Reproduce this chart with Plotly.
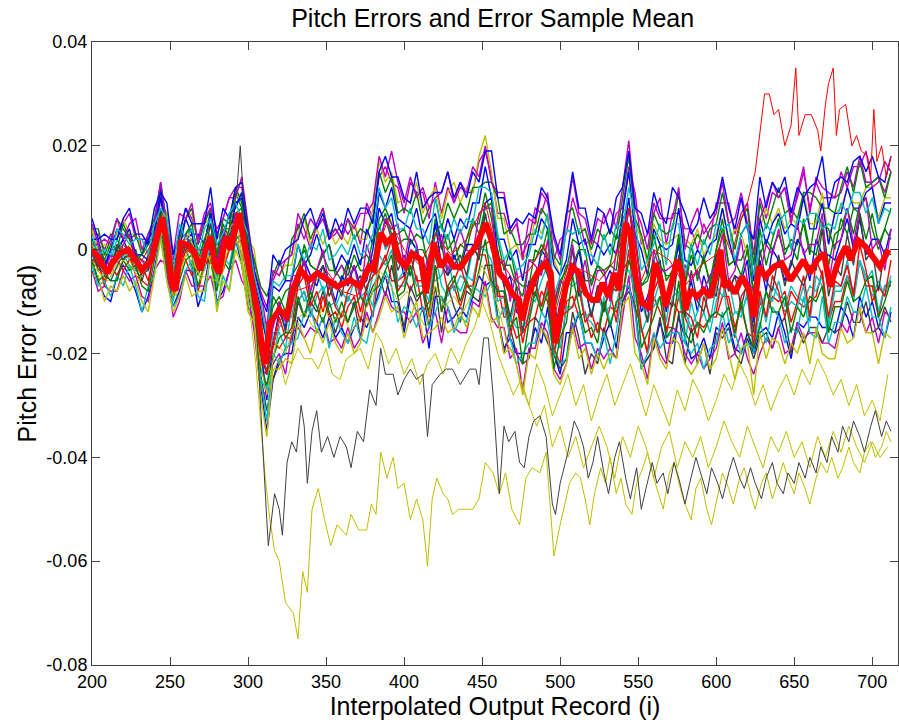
import plotly.graph_objects as go

# ---------------------------------------------------------------- data (mrad)
# common record grid for the individual error runs
GRID = list(range(200, 713, 4))

RUN_BLUE_1 = [-2,-6,-9,-10,-5,-3,-5,-8,-12,-9, -4,3,-5,-11,-8,-4,-4,-11,-7,0,
              -10,-8,-4,2,-3,-11,-14,-26,-35,-25, -21,-20,-20,-13,-15,-12,-14,-17,-13,-17,
              -15,-18,-15,-13,-15,-12,-8,-5,-10,-10, -16,-9,-12,-11,-19,-9,-9,-14,-13,-11,
              -13,-9,-5,-7,-6,-13,-19,-17,-20,-20, -20,-15,-18,-11,-20,-24,-16,-16,-12,-18,
              -18,-21,-17,-14,-19,-10,-7,-11,-22,-21, -19,-14,-18,-18,-13,-17,-21,-20,-17,-21,
              -15,-16,-14,-19,-20,-16,-20,-16,-15,-17, -12,-16,-21,-14,-15,-13,-13,-15,-15,-16,
              -11,-13,-17,-9,-13,-10,-15,-17,-12]
RUN_MAGENTA_1 = [3,3,0,3,2,5,7,2,2,2, 5,9,7,-2,3,8,6,2,7,9,
                 3,6,10,12,12,3,-2,-8,-11,-6, -3,-2,-1,5,2,6,4,6,2,3,
                 5,3,5,1,9,6,14,16,13,12, 7,13,11,11,6,13,7,12,9,13,
                 11,11,17,19,14,7,7,3,5,-1, 2,8,7,11,-2,2,3,10,6,1,
                 2,1,7,3,7,8,16,11,1,3, 7,10,1,7,7,4,4,0,5,2,
                 9,9,9,3,7,9,-1,10,6,11, 10,12,6,10,15,8,13,10,10,10,
                 11,15,12,18,13,13,14,11,15]
RUN_GREEN_1 = [2,-1,-1,-1,-1,2,3,-1,-2,-3, 4,11,3,-6,2,3,4,0,0,8,
               -2,4,4,11,8,0,-7,-13,-17,-11, -9,-12,-5,-3,0,-3,-4,-1,-4,-4,
               -6,-2,-4,-2,-1,-3,6,8,5,1, 2,2,0,0,-3,6,0,3,-2,1,
               0,5,5,11,6,-2,-3,-3,-7,-9, -2,-2,1,-1,-10,-6,-4,2,1,-6,
               -6,-3,-4,-3,-4,6,8,2,-7,-6, -2,1,-6,-4,2,-7,-1,-5,-2,-6,
               0,4,-3,-2,-2,1,-8,-1,2,0, 3,-1,2,1,5,-1,7,5,-3,3,
               4,8,3,9,10,4,0,4,8]
RUN_CYAN_1 = [-1,-4,-4,-6,-3,-1,-3,-4,-4,-4, -1,2,0,-10,-3,1,-4,-4,-4,1,
              -7,-1,-3,3,1,-7,-10,-20,-27,-16, -16,-19,-11,-10,-8,-13,-9,-7,-11,-10,
              -13,-9,-11,-9,-8,-11,-1,-3,0,-7, -7,-3,-7,-7,-10,-1,-7,-9,-6,-8,
              -5,-6,0,0,-2,-10,-9,-13,-15,-15, -13,-8,-11,-7,-16,-19,-11,-11,-8,-13,
              -14,-16,-9,-14,-11,-4,-4,-8,-16,-13, -11,-9,-17,-9,-8,-18,-10,-15,-12,-16,
              -10,-6,-14,-12,-12,-9,-20,-9,-14,-7, -9,-12,-10,-11,-7,-14,-5,-7,-14,-8,
              -8,-5,-10,-2,-5,-9,-6,-9,-5]
RUN_YELLOW_1 = [4,0,1,0,3,6,3,3,0,-1, 6,9,7,-3,1,6,7,1,5,6,
                2,4,3,10,11,2,0,-10,-16,-4, -5,-3,-3,3,6,1,4,1,4,1,
                3,1,5,2,2,8,17,13,15,9, 10,9,13,7,10,12,6,11,13,9,
                12,11,18,22,15,6,6,0,1,-2, 0,6,3,7,-2,-5,4,3,4,4,
                -1,-3,3,-1,5,7,9,5,2,-3, 5,2,1,2,3,2,1,4,-1,1,
                3,8,1,4,3,-1,-3,4,8,5, 8,4,6,5,11,5,5,11,2,7,
                8,12,9,9,12,12,6,10,10]
RUN_RED_1 = [-3,-3,-6,-3,-5,-2,-1,-5,-6,-7, 0,3,-4,-9,-5,0,-3,-8,-3,-1,
             -6,-4,0,2,-1,-4,-12,-23,-24,-18, -19,-17,-17,-10,-8,-12,-14,-9,-13,-12,
             -15,-11,-9,-14,-8,-13,-4,-1,-6,-6, -5,-8,-5,-12,-10,-3,-12,-8,-7,-11,
             -7,-7,-1,-1,-7,-7,-13,-13,-17,-16, -14,-13,-8,-10,-19,-22,-10,-9,-13,-12,
             -17,-14,-16,-11,-12,-9,0,-11,-15,-20, -9,-12,-15,-15,-9,-13,-16,-14,-15,-13,
             -13,-9,-9,-15,-11,-16,-17,-10,-13,-9, -10,-8,-14,-10,-11,-10,-9,-4,-14,-10,
             -10,-5,-8,-2,-7,-7,-13,-7,-7]
RUN_GRAY_1 = [1,-3,-2,-3,0,-2,0,-1,-5,-1, 1,8,0,-6,-3,1,2,-4,0,3,
              -5,1,4,7,4,-4,-13,-24,-31,-25, -22,-19,-18,-10,-13,-10,-12,-8,-12,-16,
              -12,-14,-10,-17,-10,-7,-5,-9,-3,-9, -15,-7,-10,-8,-15,-7,-16,-7,-11,-14,
              -8,-9,-10,-3,-3,-13,-20,-15,-20,-22, -21,-13,-15,-18,-20,-23,-21,-12,-17,-24,
              -20,-22,-15,-19,-21,-10,-8,-11,-23,-21, -19,-13,-21,-22,-12,-22,-15,-22,-18,-24,
              -16,-17,-15,-20,-22,-17,-21,-17,-16,-19, -15,-13,-20,-15,-18,-15,-15,-18,-15,-16,
              -15,-10,-14,-14,-10,-16,-15,-11,-14]
RUN_BLUE_2 = [-1,0,-4,0,0,2,-1,-1,-1,-2, 3,10,2,-8,1,2,3,-3,1,7,
              -3,3,1,9,10,1,-9,-20,-29,-18, -12,-15,-7,-6,-2,-5,-7,-3,-6,-10,
              -5,-7,-3,-7,-6,0,8,5,7,0, -5,2,0,-5,-3,5,-3,-5,-1,-4,
              1,1,0,9,10,-1,-7,-5,-12,-13, -6,-7,0,-2,-17,-10,-7,-5,0,-7,
              -13,-7,-7,-4,-7,2,10,-3,-12,-9, -5,-2,-12,-5,1,-11,-6,-12,-5,-9,
              -1,-2,-8,-5,-6,-2,-14,-2,-8,0, -2,-6,-3,2,0,-6,2,-1,-1,-2,
              2,6,0,6,-1,2,2,-1,4]
RUN_GREEN_2 = [4,4,-1,2,6,4,2,3,-1,3, 6,13,5,-1,2,6,8,1,5,8,
               -1,6,5,12,9,1,-2,-7,-9,-5, -2,-6,2,4,7,2,5,8,3,4,
               2,6,2,4,3,6,15,11,14,7, 8,7,11,5,8,10,4,9,6,9,
               7,12,12,13,13,10,3,4,1,1, 3,3,8,6,-1,-3,7,8,3,4,
               0,4,2,4,2,10,18,6,3,-2, 7,4,3,4,11,1,0,3,1,4,
               5,11,5,0,6,8,-3,9,4,8, 12,7,8,6,11,11,10,8,8,7,
               12,16,11,17,12,13,14,10,15]
RUN_MAGENTA_2 = [-4,-8,-7,-8,-8,-4,-6,-5,-9,-10, -4,-2,-3,-13,-10,-4,-7,-7,-7,-5,
                 -10,-9,-4,-2,-6,-8,-16,-27,-28,-22, -20,-24,-16,-15,-17,-15,-16,-13,-18,-17,
                 -19,-15,-19,-17,-12,-16,-12,-8,-11,-12, -12,-14,-12,-18,-15,-12,-18,-11,-15,-16,
                 -16,-10,-11,-6,-13,-15,-15,-21,-19,-27, -19,-19,-14,-16,-23,-25,-22,-14,-19,-18,
                 -23,-19,-21,-19,-21,-13,-5,-17,-20,-25, -16,-20,-22,-15,-16,-20,-22,-20,-23,-21,
                 -19,-14,-21,-20,-16,-21,-24,-20,-17,-19, -15,-20,-19,-14,-17,-16,-16,-18,-18,-19,
                 -14,-16,-12,-12,-16,-13,-18,-12,-13]
RUN_CYAN_2 = [0,0,-5,-2,2,0,-2,0,-4,-4, 2,5,4,-7,-3,3,1,-4,2,3,
              -6,2,1,4,7,-5,-14,-25,-27,-21, -15,-13,-13,-6,-10,-8,-4,-8,-6,-11,
              -8,-10,-6,-9,-10,-5,5,0,2,-6, -4,-5,1,-7,-5,-6,-5,-1,-8,-5,
              -6,0,-1,7,1,-8,-8,-14,-9,-16, -9,-10,-6,-3,-20,-16,-6,-7,-6,-13,
              -12,-9,-12,-11,-5,-5,2,-10,-10,-14, -10,-6,-14,-6,-9,-12,-15,-12,-7,-14,
              -7,-9,-6,-12,-13,-8,-18,-12,-8,-10, -6,-11,-7,-9,-10,-7,-8,-5,-15,-7,
              -7,-2,-9,-2,-6,-4,-12,-7,-6]
RUN_BLUE_3 = [2,2,-3,0,4,2,4,-1,-1,2, 4,12,3,-3,0,6,3,3,1,7,
              1,2,7,8,11,2,-6,-11,-18,-7, -8,-6,-6,1,-3,-1,3,-1,1,-4,
              -1,-3,1,-3,4,1,11,8,12,6, 5,4,8,2,5,7,1,6,2,6,
              4,9,9,16,10,2,2,-2,0,-6, 1,1,6,4,-3,-5,-2,6,1,2,
              -3,1,-1,1,-1,7,15,3,0,-5, 4,1,0,1,8,-2,-3,0,-2,1,
              2,8,2,-3,3,5,-6,6,1,5, 7,3,5,4,10,4,4,9,1,7,
              7,12,8,8,11,12,5,9,9]
RUN_GREEN_3 = [1,1,-2,1,0,5,2,-2,-1,1, 3,7,5,-4,-1,3,5,-2,2,5,
               -1,5,2,7,8,-2,-5,-17,-19,-9, -11,-8,-7,-5,1,-3,-4,-1,1,-5,
               -3,-5,-1,-4,-4,2,4,7,3,3, 4,1,3,2,-4,3,5,0,2,-3,
               2,6,3,8,9,2,-4,0,-6,-7, -7,0,-1,4,-12,-7,-3,-3,0,0,
               -7,-3,-5,-3,3,0,8,3,-7,-5, 3,-3,-5,-5,3,-6,1,-6,-1,-7,
               0,6,-3,-2,-5,0,-9,4,-3,2, 6,0,1,-2,6,0,-1,5,4,0,
               6,3,8,7,2,7,1,4,2]
RUN_RED_2 = [-2,-2,-7,-2,-2,-4,-2,-2,-3,-6, 0,2,1,-9,0,-2,-5,-3,-3,-1,
             -4,-3,0,1,2,-1,-11,-22,-23,-18, -13,-17,-15,-7,-5,-11,-8,-12,-7,-11,
             -13,-8,-6,-12,-7,-5,-4,-2,2,-8, -6,-1,-6,-6,-13,-4,-2,-8,-6,-3,
             -7,-8,0,1,2,-9,-9,-17,-10,-18, -12,-6,-11,-6,-20,-13,-12,-11,-7,-14,
             -12,-16,-11,-8,-14,-4,-2,-5,-15,-20, -8,-5,-16,-10,-12,-12,-13,-17,-9,-13,
             -12,-5,-11,-17,-9,-7,-19,-8,-13,-5, -8,-13,-8,-10,-5,-13,-2,-5,-13,-6,
             -7,-3,-9,1,-4,-10,-7,-9,-2]
RUN_CYAN_3 = [-3,-7,-6,-9,-5,-7,-3,-7,-12,-7, -5,3,-6,-11,-9,-4,-2,-9,-10,-1,
              -11,-5,-8,2,-2,-10,-12,-25,-33,-20, -22,-19,-18,-17,-12,-11,-16,-13,-19,-13,
              -16,-18,-13,-17,-18,-12,-9,-4,-7,-14, -11,-12,-15,-11,-15,-12,-9,-11,-16,-13,
              -14,-7,-8,-9,-6,-14,-11,-17,-22,-20, -18,-18,-12,-14,-20,-22,-21,-15,-12,-18,
              -18,-21,-16,-22,-16,-7,-7,-12,-23,-20, -16,-19,-17,-16,-16,-18,-20,-18,-23,-19,
              -18,-12,-18,-16,-20,-18,-19,-14,-18,-11, -13,-18,-15,-16,-9,-16,-17,-9,-18,-14,
              -14,-9,-12,-12,-7,-13,-13,-17,-11]
RUN_MAGENTA_3 = [5,1,2,1,6,2,5,6,0,3, 5,13,4,-1,7,6,9,1,6,8,
                 4,6,10,10,14,5,-4,-8,-15,-4, -5,-2,-1,7,4,0,5,8,2,4,
                 2,6,4,7,7,9,18,14,19,13, 9,14,10,12,8,10,11,15,9,12,
                 11,16,14,20,13,11,11,4,6,-2, 6,5,11,9,2,-2,6,14,7,6,
                 1,6,5,8,4,12,21,8,5,0, 9,6,6,6,12,0,5,8,3,5,
                 7,13,5,6,11,5,2,6,9,13, 10,12,5,11,16,7,14,12,11,10,
                 15,12,16,16,19,12,13,17,15]
RUN_YELLOW_2 = [-5,-5,-10,-7,-8,-5,-8,-6,-10,-12, -5,2,-6,-12,-9,-5,-9,-8,-8,-1,
                -12,-6,-8,0,-3,-12,-14,-28,-36,-23, -23,-21,-22,-14,-17,-20,-15,-18,-14,-18,
                -20,-16,-20,-18,-13,-16,-13,-9,-12,-11, -17,-13,-10,-17,-16,-15,-13,-16,-15,-12,
                -15,-11,-13,-7,-14,-13,-20,-19,-22,-28, -20,-21,-15,-17,-24,-26,-22,-15,-21,-19,
                -24,-20,-23,-20,-21,-11,-9,-20,-22,-26, -17,-21,-23,-17,-18,-22,-24,-22,-18,-23,
                -21,-15,-20,-25,-19,-18,-28,-16,-21,-17, -18,-22,-18,-20,-16,-22,-15,-20,-21,-21,
                -15,-18,-17,-11,-16,-16,-22,-16,-17]
RUN_GRAY_2 = [0,-4,-3,-4,1,-1,0,0,-6,-2, 0,7,-1,-7,1,0,1,-5,-1,5,
              -4,-2,3,4,5,-5,-8,-20,-24,-14, -10,-16,-8,-7,-2,-10,-5,-3,-9,-6,
              -9,-3,-7,-5,-8,-3,0,6,2,-4, -1,-5,0,-6,-2,-1,1,-5,-3,-1,
              -5,1,-2,7,0,0,-7,-13,-7,-16, -7,-9,-2,-5,-10,-16,-7,0,-9,-7,
              -13,-7,-12,-7,-8,3,3,-8,-8,-14, -2,-7,-9,-11,-1,-13,-4,-10,-12,-7,
              -9,-1,-8,-5,-11,-6,-16,0,-6,-8, -1,-7,-2,-5,-7,-3,-4,4,-9,-3,
              -5,3,-3,7,-2,0,-8,0,-1]
RUN_BLUE_4 = [6,2,3,2,2,6,8,3,3,1, 8,11,9,-1,3,8,5,5,5,12,
              2,8,6,12,13,4,-4,-9,-12,-1, -3,0,1,2,6,8,4,7,2,6,
              3,8,5,8,8,5,15,18,14,14, 10,9,15,8,10,11,11,15,10,13,
              10,15,13,19,19,10,10,4,6,5, 7,6,12,10,3,-1,7,15,8,8,
              2,8,7,3,10,12,19,8,7,3, 11,7,5,12,10,7,3,5,10,6,
              8,14,8,4,10,4,2,14,8,13, 11,14,7,12,10,12,13,18,8,13,
              14,13,17,18,15,18,14,13,18]
RUN_GREEN_4 = [-2,-6,-5,-6,-6,-2,-4,-3,-7,-8, -2,5,-3,-9,-6,-2,-1,-7,-3,-2,
               -8,-2,-4,2,3,-8,-12,-23,-26,-21, -17,-16,-16,-9,-13,-8,-11,-14,-10,-14,
               -10,-14,-11,-9,-11,-8,-7,-4,-1,-9, -8,-3,-9,-8,-12,-3,-12,-7,-5,-10,
               -6,-9,-4,2,-6,-8,-8,-15,-13,-22, -14,-8,-12,-8,-23,-17,-14,-5,-11,-16,
               -15,-18,-10,-15,-10,-9,-2,-6,-19,-16, -13,-9,-17,-15,-6,-16,-18,-14,-16,-13,
               -12,-13,-11,-16,-10,-16,-19,-15,-8,-12, -12,-9,-16,-11,-13,-9,-10,-7,-16,-11,
               -11,-6,-10,-9,-6,-5,-13,-10,-6]
RUN_MAGENTA_4 = [1,1,-4,-1,-2,1,3,-2,-2,-4, 3,6,4,-6,-2,3,0,0,0,1,
                 -3,4,1,7,7,-3,-10,-17,-20,-15, -10,-14,-5,-5,-2,-8,-4,0,-7,-5,
                 -3,-6,-3,-9,1,-3,1,6,4,5, -3,4,1,-5,-1,1,3,-4,0,4,
                 0,-1,7,8,8,-3,-2,-10,-4,-12, -2,-3,-5,2,-11,-6,-7,1,-7,-2,
                 -9,-4,-4,-10,0,-1,8,3,-8,-12, 0,-4,-4,-3,-4,-3,-6,-4,-8,-5,
                 -3,3,-6,-4,2,-6,-8,-5,1,-1, 4,-2,-1,5,-1,1,1,7,-7,1,
                 2,8,1,8,10,0,2,-4,4]
RUN_CYAN_4 = [3,-1,0,-1,4,3,1,2,2,-1, 5,8,6,-4,5,2,4,-1,4,6,
              1,3,7,9,6,3,-5,-10,-17,-6, -7,-5,-5,1,-2,1,0,4,-2,-1,
              1,-1,3,-1,0,3,12,8,10,4, 4,8,4,4,1,10,4,2,6,3,
              6,5,12,12,11,3,-2,0,-4,-3, -1,4,2,7,-9,-5,4,3,4,-1,
              -1,-3,3,-1,5,4,12,6,-4,-2, 1,5,-3,5,5,-5,1,-3,2,-1,
              5,4,5,-2,3,5,-5,1,5,3, 5,7,0,6,5,7,7,4,5,4,
              9,7,11,11,7,10,5,8,7]

# runs that leave the main band
OUT_BLACK_X = [200,206,212,218,224,230,236,242,246,250,254,258,262,266,270,274,278,282,286,290,
               293,295,297,300,303,306,308,310,312,313,315,317,320,322,325,328,331,334,336,338,
               341,344,347,351,355,359,363,366,370,374,378,382,385,388,393,396,400,404,408,412,
               415,418,423,427,431,436,442,446,448,451,454,457,461,464,467,471,474,477,480,483,
               487,491,495,497,500,505,509,512,515,518,521,524,528,531,535,538,542,545,549,552,
               555,559,562,566,569,573,576,580,583,587,590,594,597,601,604,608,611,615,618,622,
               625,629,632,636,639,643,646,650,653,657,660,664,667,671,674,678,681,685,688,692,
               695,699,702,706,709,712]
OUT_BLACK_Y = [-1,-4,-6,-2,-1,-5,-4,3,5,-3,-8,0,2,-1,-4,1,-2,-5,2,6,
               12,20,10,4,-6,-18,-30,-42,-52,-57,-52,-47,-50,-55,-41,-37,-39,-30,-34,-45,
               -35,-31,-39,-36,-40,-36,-38,-42,-35,-37,-27,-30,-19,-24,-24,-28,-25,-23,-25,-24,
               -36,-26,-24,-23,-23,-26,-23,-23,-26,-17,-17,-28,-47,-34,-37,-35,-41,-42,-36,-33,
               -32,-36,-49,-51,-45,-39,-33,-35,-38,-44,-41,-36,-43,-47,-40,-37,-44,-48,-42,-50,
               -46,-41,-45,-43,-47,-41,-44,-49,-45,-40,-43,-47,-42,-45,-48,-43,-40,-44,-46,-42,
               -45,-48,-44,-41,-45,-47,-43,-45,-41,-44,-40,-43,-38,-41,-36,-39,-34,-37,-33,-36,
               -39,-34,-31,-36,-33,-35]

OUT_YELLOW_A_X = [200,206,212,218,224,230,236,242,246,250,254,258,262,266,270,274,278,282,286,290,
                  294,298,302,305,308,311,314,317,320,324,329,332,335,338,341,345,349,353,357,363,
                  366,371,376,379,382,385,389,393,396,400,404,408,412,415,418,421,425,428,431,435,
                  440,444,448,452,457,461,465,469,474,478,482,487,491,496,500,506,510,513,516,519,
                  522,526,529,532,536,539,542,546,549,553,556,560,563,566,570,573,577,580,584,587,
                  590,594,597,601,604,608,611,615,618,622,625,629,632,636,639,643,646,650,653,657,
                  660,664,667,671,674,678,681,685,688,692,695,699,702,706,709,712]
OUT_YELLOW_A_Y = [-2,-5,-3,0,-2,-6,-3,2,3,-5,-9,-2,0,-3,-6,-1,-4,-7,-1,2,
                  1,-6,-14,-22,-33,-44,-52,-58,-60,-68,-70,-75,-62,-66,-50,-46,-52,-57,-53,-55,
                  -51,-54,-54,-49,-51,-39,-44,-40,-46,-45,-52,-48,-52,-61,-48,-44,-47,-48,-51,-50,
                  -50,-50,-48,-41,-43,-47,-43,-50,-53,-44,-42,-43,-39,-59,-53,-45,-43,-44,-48,-53,
                  -47,-42,-45,-40,-47,-44,-49,-51,-45,-42,-39,-44,-47,-50,-43,-41,-46,-49,-52,-46,
                  -44,-50,-53,-47,-43,-46,-49,-44,-42,-47,-50,-45,-43,-48,-45,-41,-44,-47,-43,-46,
                  -49,-44,-41,-43,-40,-44,-42,-38,-41,-43,-39,-37,-40,-38,-35,-37]

OUT_YELLOW_B_X = [200,206,212,218,224,230,236,242,246,250,254,258,262,266,270,274,278,282,286,290,
                  294,297,300,305,310,315,320,324,328,332,336,341,345,350,354,359,363,368,372,377,
                  382,386,390,395,400,405,410,415,420,425,430,435,440,445,450,455,460,465,470,475,
                  480,485,490,495,500,505,510,515,520,525,530,535,540,545,550,555,560,565,570,575,
                  580,585,590,595,600,605,610,615,620,625,630,635,640,645,650,655,660,665,670,675,
                  680,685,690,695,700,705,710]
OUT_YELLOW_B_Y = [1,-3,-5,-1,1,-4,-2,4,7,-2,-6,1,3,0,-2,3,-1,-4,3,5,
                  3,-3,-8,-14,-20,-24,-21,-26,-22,-19,-21,-21,-23,-19,-24,-25,-21,-20,-19,-23,
                  -16,-18,-22,-19,-24,-21,-26,-22,-20,-24,-19,-22,-18,-15,-10,-14,-20,-24,-28,-25,
                  -30,-22,-26,-32,-28,-24,-30,-26,-33,-28,-24,-30,-26,-22,-27,-32,-26,-30,-34,-27,
                  -31,-25,-28,-33,-29,-24,-27,-22,-25,-30,-26,-31,-27,-24,-28,-23,-26,-21,-24,-28,
                  -25,-30,-26,-32,-29,-33,-24]

OUT_YELLOW_C_X = [200,210,220,230,240,246,252,260,270,280,290,296,302,308,312,318,324,330,336,342,
                  348,354,360,366,372,378,384,390,396,402,408,414,420,426,432,438,444,450,456,462,
                  466,470,475,480,485,490,495,500,505,510,515,520,525,530,535,540,545,550,555,560,
                  565,570,575,580,585,590,595,600,605,610,615,620,625,630,635,640,645,650,655,660,
                  665,670,675,680,685,690,695,700,705,710]
OUT_YELLOW_C_Y = [-3,-6,-2,-5,0,4,-9,-1,-5,-6,2,1,-10,-22,-28,-18,-20,-14,-12,-15,
                  -11,-14,-12,-16,-13,-10,-4,-6,-10,-8,-12,-15,-7,-11,-9,-12,-8,-3,-7,-13,
                  -18,-20,-26,-30,-34,-30,-38,-34,-40,-36,-42,-38,-34,-38,-44,-36,-40,-34,-38,-44,
                  -38,-35,-42,-37,-40,-36,-42,-38,-33,-37,-40,-34,-38,-42,-36,-39,-35,-40,-37,-42,
                  -36,-40,-35,-39,-34,-38,-41,-37,-40,-38]

OUT_RED_X = [200,210,220,230,240,245,252,260,270,280,290,296,304,312,320,330,340,350,360,370,
             380,390,400,410,420,430,440,452,460,470,480,490,497,505,515,525,535,544,552,560,
             570,580,590,600,605,610,615,620,625,628,631,634,637,640,644,648,651,653,657,661,
             665,667,670,672,675,677,679,683,687,690,693,697,699,701,703,706,709,712]
OUT_RED_Y = [-2,-4,1,-3,2,6,-8,0,-2,-3,3,5,-10,-24,-14,-8,-7,-4,-8,-9,
             -2,6,0,-3,3,-1,2,9,-1,-6,-4,1,-12,-3,-4,-6,-2,8,-6,0,
             -2,-7,-3,-1,3,-1,5,9,15,22,30,30,26,27,20,24,35,22,26,26,
             23,19,28,32,35,22,27,28,20,22,19,18,14,27,17,20,14,18]

# sample mean of all runs
MEAN_X = [200,204,210,213,218,223,227,232,238,243,245,248.5,251.6,253.7,256.8,261,265.5,269.6,272.8,276,
          279,281.5,285.6,288.8,294.3,297.5,301.6,306,309,311,314,320,325,329.5,333.6,339,344.5,350.8,357,365.6,
          372,377.5,380.7,385,388.6,392.7,397,401,405,411,414,417,419,423.6,427.7,432,436.5,440.5,446,452.4,
          456.5,461,465,469,473.7,475.7,479,483,486.5,490.8,494,497,500.4,503.6,507.7,512,516.4,520.5,523.7,527,
          531,534.5,537.7,542,545,548.4,552.5,557,561,564.5,567.6,571.7,575,578,580.4,583.6,587.7,592,596.4,599.6,
          602.8,605,608,612,616.5,621,624,627.3,631.6,637,642,647.6,652,656,660,664.7,669,673,678.5,683,
          686,691,695.6,701,705,710.5]
MEAN_Y = [0,-1.4,-4.5,-2.6,-0.7,0,-1.6,-3.9,-2,4.4,6.2,0.6,-7.1,-7.8,1.3,0.9,-0.4,-3.9,0,2.5,
          -3.3,-4.5,2.5,0,7,1.3,-4.5,-11.6,-18.7,-22,-14.2,-11.6,-12.9,-7.1,-3.9,-5.9,-4.5,-5.9,-7.1,-5.9,
          -7.1,-3.3,-3.9,3.2,1.3,2.5,-2,-3.3,-0.7,-2,-8.4,-2.6,1.3,-3.3,-1.4,-3.3,-3.3,-1.4,0.6,5.1,
          1.3,-4.5,-5.9,-8.4,-9.7,-13.6,-9.1,-5.9,-3.9,-2.6,-4.5,-18,-12.2,-7.1,-3.3,-4.5,-8.4,-9.7,-9.7,-6.4,
          -9.1,-4.5,-7.8,5.1,3.2,-5.2,-10.3,-11,-2.6,-5.9,-11,-6.4,-2,-4.5,-11.6,-7.8,-9.1,-7.8,-9.1,-5.2,
          0,-7.1,-6.4,-8.4,-5.2,-7.8,-12.9,-3.3,-5.2,-3.3,-2.6,-5.9,-3.9,-2,-4.5,-2,-0.7,-7.1,-2,0.6,
          -2,1.8,0.6,-1.4,-3.3,0]

Y_TICKS = [0.04, 0.02, 0, -0.02, -0.04, -0.06, -0.08]
Y_TICK_TEXT = ["0.04", "0.02", "0", "-0.02", "-0.04", "-0.06", "-0.08"]
X_TICKS = [200, 250, 300, 350, 400, 450, 500, 550, 600, 650, 700]

# ---------------------------------------------------------------- styling
MATLAB = {
    "b": "rgb(0,0,255)",
    "g": "rgb(0,128,0)",
    "r": "rgb(255,0,0)",
    "c": "rgb(0,191,191)",
    "m": "rgb(191,0,191)",
    "y": "rgb(191,191,0)",
    "k": "rgb(64,64,64)",
}


def mrad(values):
    return [v / 1000.0 for v in values]


fig = go.Figure()

grid_runs = [
    (RUN_BLUE_1, "b"), (RUN_GREEN_1, "g"), (RUN_RED_1, "r"), (RUN_CYAN_1, "c"),
    (RUN_MAGENTA_1, "m"), (RUN_YELLOW_1, "y"), (RUN_GRAY_1, "k"),
    (RUN_BLUE_2, "b"), (RUN_GREEN_2, "g"), (RUN_MAGENTA_2, "m"),
    (RUN_CYAN_2, "c"), (RUN_BLUE_3, "b"), (RUN_GREEN_3, "g"), (RUN_RED_2, "r"),
    (RUN_CYAN_3, "c"), (RUN_MAGENTA_3, "m"), (RUN_YELLOW_2, "y"), (RUN_GRAY_2, "k"),
    (RUN_BLUE_4, "b"), (RUN_GREEN_4, "g"), (RUN_MAGENTA_4, "m"), (RUN_CYAN_4, "c"),
]
for vals, col in grid_runs:
    fig.add_trace(go.Scatter(x=GRID, y=mrad(vals), mode="lines",
                             line=dict(color=MATLAB[col], width=1.4),
                             hoverinfo="skip", showlegend=False))

outliers = [
    (OUT_YELLOW_A_X, OUT_YELLOW_A_Y, "y"),
    (OUT_YELLOW_B_X, OUT_YELLOW_B_Y, "y"),
    (OUT_YELLOW_C_X, OUT_YELLOW_C_Y, "y"),
    (OUT_BLACK_X, OUT_BLACK_Y, "k"),
    (OUT_RED_X, OUT_RED_Y, "r"),
]
for xs, ys, col in outliers:
    fig.add_trace(go.Scatter(x=xs, y=mrad(ys), mode="lines",
                             line=dict(color=MATLAB[col], width=1),
                             hoverinfo="skip", showlegend=False))

fig.add_trace(go.Scatter(x=MEAN_X, y=mrad(MEAN_Y), mode="lines",
                         line=dict(color="rgb(255,0,0)", width=6),
                         showlegend=False))

FONT = "Liberation Sans, Arial, sans-serif"
axis_common = dict(
    showline=True, linecolor="#404040", linewidth=1, mirror="ticks",
    ticks="inside", ticklen=8, tickcolor="#404040", tickwidth=1,
    showgrid=False, zeroline=False,
    tickfont=dict(family=FONT, size=18, color="black"),
)

fig.update_layout(
    width=899, height=726,
    margin=dict(l=92, r=1, t=42, b=61),
    paper_bgcolor="white", plot_bgcolor="white",
    title=dict(text="Pitch Errors and Error Sample Mean", x=0.548, xanchor="center",
               y=0.975, yanchor="middle",
               font=dict(family=FONT, size=25, color="black")),
    xaxis=dict(range=[200, 716.5], tickvals=X_TICKS,
               title=dict(text="Interpolated Output Record (i)", standoff=3,
                          font=dict(family=FONT, size=25, color="black")),
               **axis_common),
    yaxis=dict(range=[-0.08, 0.04], tickvals=Y_TICKS, ticktext=Y_TICK_TEXT,
               title=dict(text="Pitch Error (rad)", standoff=2,
                          font=dict(family=FONT, size=25, color="black")),
               **axis_common),
)

fig.write_html("out.html")
